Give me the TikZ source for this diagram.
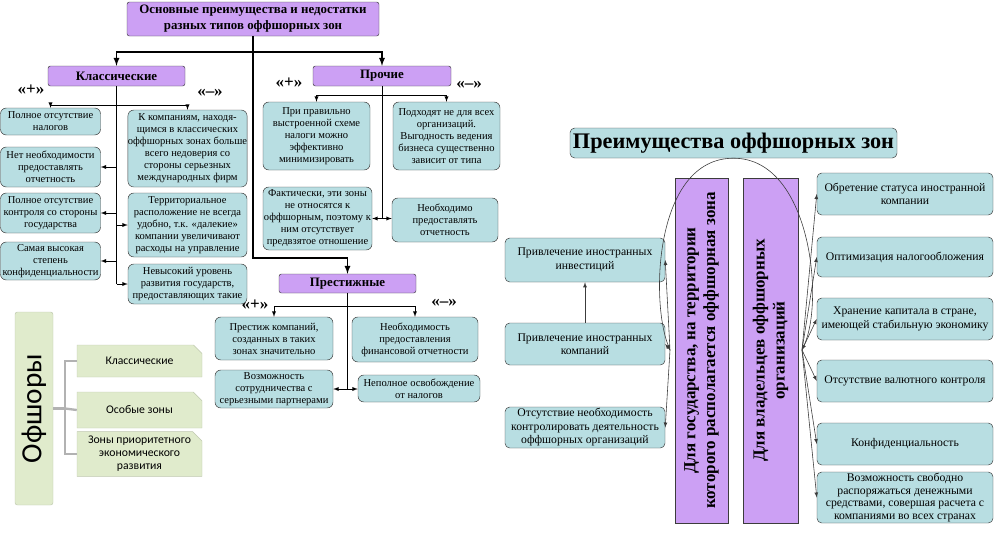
\documentclass[tikz,border=0pt]{standalone}
\usepackage{fontspec}
\setmainfont{Liberation Serif}
\newfontfamily\calibfont{Carlito}
\usepackage{tikz}
\usetikzlibrary{shapes.misc}

\definecolor{lilac}{RGB}{204,160,244}
\definecolor{aqua}{RGB}{184,222,226}
\definecolor{sage}{RGB}{224,235,204}
\definecolor{sageline}{RGB}{190,200,175}
\definecolor{edge}{RGB}{60,60,60}

\begin{document}
\begin{tikzpicture}[x=0.3mm, y=-0.3mm, >=latex,
	sz/.style 2 args={minimum width=#1*0.3mm, minimum height=#2*0.3mm},
	head/.style={draw=edge, fill=lilac, rounded corners=2pt, inner sep=0pt, align=center, font=\fontsize{11}{13.5}\selectfont\bfseries},
	sign/.style={inner sep=0pt, font=\fontsize{14.5}{14.5}\selectfont\bfseries},
	cell/.style={draw=edge, fill=aqua, rounded corners=5pt, inner sep=0pt, align=center, font=\fontsize{9}{10.2}\selectfont},
	note/.style={draw=edge, fill=aqua, rounded corners=4pt, inner sep=0pt, align=center, font=\fontsize{10}{11.5}\selectfont},
	big/.style={draw=edge, fill=aqua, rounded corners=4pt, inner sep=0pt, align=center, font=\fontsize{19}{21}\selectfont\bfseries},
	column/.style={draw=edge, fill=lilac, inner sep=0pt, align=center, font=\fontsize{14.5}{17}\selectfont\bfseries},
	gtall/.style={draw=sageline, fill=sage, rounded corners=2pt, inner sep=0pt, font=\calibfont\fontsize{25}{25}\selectfont},
	gcut/.style={chamfered rectangle, chamfered rectangle corners=north east, chamfered rectangle xsep=4pt, chamfered rectangle ysep=4pt, draw=sageline, fill=sage, inner sep=0pt, align=center, font=\calibfont\fontsize{10}{11}\selectfont},
	trunk/.style={line width=1.3pt},
	twig/.style={line width=0.6pt},
	wire/.style={line width=0.5pt, draw=edge},
	gwire/.style={line width=2pt, draw=gray!60}]
	\useasboundingbox (0,0) rectangle (1000,534);

	\node[head, sz={252}{34}] (T) at (253,19) {Основные преимущества и недостатки\\разных типов оффшорных зон};
	\node[head, sz={137}{20}] (K) at (116.5,76) {Классические};
	\node[head, sz={138}{20}] (P) at (382,76) {Прочие};
	\node[head, sz={137}{19}] (S) at (347.5,283.5) {Престижные};

	\node[sign] (Kp) at (31,90) {«+»};
	\node[sign] (Km) at (210,93) {«–»};
	\node[sign] (Pp) at (289,83) {«+»};
	\node[sign] (Pm) at (469,85) {«–»};
	\node[sign] (Sp) at (255,305) {«+»};
	\node[sign] (Sm) at (444,303) {«–»};

	\node[cell, sz={100}{27}] (k1) at (50.5,121.5) {Полное отсутствие\\налогов};
	\node[cell, sz={100}{40}] (k2) at (50.5,167) {Нет необходимости\\предоставлять\\отчетность};
	\node[cell, sz={100}{40}] (k3) at (50.5,213) {Полное отсутствие\\контроля со стороны\\государства};
	\node[cell, sz={100}{38}] (k4) at (50.5,261) {Самая высокая\\степень\\конфиденциальности};
	\node[cell, sz={119}{77}] (km1) at (187.5,148.5) {К компаниям, находя-\\щимся в классических\\оффшорных зонах больше\\всего недоверия со\\стороны серьезных\\международных фирм};
	\node[cell, sz={119}{64}] (km2) at (187.5,225) {Территориальное\\расположение не всегда\\удобно, т.к. «далекие»\\компании увеличивают\\расходы на управление};
	\node[cell, sz={119}{40}] (km3) at (187.5,284) {Невысокий уровень\\развития государств,\\предоставляющих такие};

	\node[cell, sz={107}{68}] (p1) at (316.5,136) {При правильно\\выстроенной схеме\\налоги можно\\эффективно\\минимизировать};
	\node[cell, sz={107}{68}] (pm1) at (446.5,136) {Подходят не для всех\\организаций.\\Выгодность ведения\\бизнеса существенно\\зависит от типа};
	\node[cell, sz={109}{63}] (p2) at (317.5,218.5) {Фактически, эти зоны\\не относятся к\\оффшорным, поэтому к\\ним отсутствует\\предвзятое отношение};
	\node[cell, sz={106}{44}] (pm2) at (445,220) {Необходимо\\предоставлять\\отчетность};

	\node[cell, sz={118}{43}] (s1) at (274,338.5) {Престиж компаний,\\созданных в таких\\зонах значительно};
	\node[cell, sz={126}{45}] (sm1) at (415,339.5) {Необходимость\\предоставления\\финансовой отчетности};
	\node[cell, sz={118}{38}] (s2) at (274,389) {Возможность\\сотрудничества с\\серьезными партнерами};
	\node[cell, sz={122}{27}] (sm2) at (419,388.5) {Неполное освобождение\\от налогов};

	\coordinate (j0) at (253,52);
	\coordinate (jS) at (347.5,258);
	\coordinate (jK) at (116.5,105);
	\coordinate (jP) at (382,95);
	\coordinate (jR) at (347.5,306);

	\draw[trunk] (T.south) |- (jS);
	\draw[trunk, ->] (jS) -- (S.north);
	\draw[trunk, ->] (j0) -| (K.north);
	\draw[trunk, ->] (j0) -| (P.north);

	\draw[twig] (K.south) -- (K.south |- km3.west);
	\draw[twig, ->] (jK) -| (k1.north);
	\draw[twig, ->] (jK) -| (km1.north);
	\draw[twig, ->] (K.south |- k2.east) -- (k2.east);
	\draw[twig, ->] (K.south |- k3.east) -- (k3.east);
	\draw[twig, ->] (K.south |- k4.east) -- (k4.east);
	\draw[twig, ->] (K.south |- km2.west) -- (km2.west);
	\draw[twig, ->] (K.south |- km3.west) -- (km3.west);

	\draw[twig] (P.south) -- (P.south |- p2.east);
	\draw[twig, ->] (jP) -| (p1.north);
	\draw[twig, ->] (jP) -| (pm1.north);
	\draw[twig, ->] (P.south |- p2.east) -- (p2.east);
	\draw[twig, ->] (P.south |- p2.east) -- (pm2.west |- p2.east);

	\draw[twig] (S.south) -- (S.south |- s2.east);
	\draw[twig, ->] (jR) -| (s1.north);
	\draw[twig, ->] (jR) -| (sm1.north);
	\draw[twig, ->] (S.south |- s2.east) -- (s2.east);
	\draw[twig, ->] (S.south |- s2.east) -- (sm2.west |- s2.east);

	\node[gtall, sz={193}{38}, rotate=90] (O) at (34,408.5) {Офшоры};
	\node[gcut, sz={125}{32}] (g1) at (139.5,361) {Классические};
	\node[gcut, sz={125}{36}] (g2) at (139.5,410) {Особые зоны};
	\node[gcut, sz={125}{38}] (g3) at (139.5,454) {Зоны приоритетного\\экономического\\развития};
	\coordinate (jO) at (65,408.5);
	\draw[gwire] (O.south) -- (jO);
	\draw[gwire] (g1.west) -| (jO) |- (g3.west);
	\draw[gwire] (jO) -- (g2.west);

	\node[big, sz={327}{30}] (R) at (733.5,143) {Преимущества оффшорных зон};
	\node[column, sz={345}{53}, rotate=90] (G) at (701.5,350.5) {Для государства, на территории\\которого располагается оффшорная зона};
	\node[column, sz={345}{55}, rotate=90] (V) at (770.5,350.5) {Для владельцев оффшорных\\организаций};

	\node[note, sz={160}{44}] (L1) at (585,260) {Привлечение иностранных\\инвестиций};
	\node[note, sz={160}{42}] (L2) at (585,344) {Привлечение иностранных\\компаний};
	\node[note, sz={160}{41}] (L3) at (585,427.5) {Отсутствие необходимость\\контролировать деятельность\\оффшорных организаций};

	\node[note, sz={176}{42}] (B1) at (905,194) {Обретение статуса иностранной\\компании};
	\node[note, sz={176}{40}] (B2) at (905,257) {Оптимизация налогообложения};
	\node[note, sz={176}{42}] (B3) at (905,319) {Хранение капитала в стране,\\имеющей стабильную экономику};
	\node[note, sz={176}{42}] (B4) at (905,381) {Отсутствие валютного контроля};
	\node[note, sz={176}{42}] (B5) at (905,444) {Конфиденциальность};
	\node[note, sz={176}{51}, font=\fontsize{10}{10.8}\selectfont] (B6) at (905,497.5) {Возможность свободно\\распоряжаться денежными\\средствами, совершая расчета с\\компаниями во всех странах};

	\coordinate (hl) at (670,350);
	\coordinate (hr) at (802,350);
	\draw[wire, ->] (R.south) .. controls (655,158) and (650,300) .. (hl);
	\draw[wire, ->] (R.south) .. controls (810,158) and (825,300) .. (hr);
	\draw[wire, ->] (hl) -- (L1.east);
	\draw[wire, ->] (hl) -- (L2.east);
	\draw[wire, ->] (hl) -- (L3.east);
	\draw[wire, ->] (L2.north) -- (L1.south);
	\draw[wire, ->] (hr) -- (B1.west);
	\draw[wire, ->] (hr) -- (B2.west);
	\draw[wire, ->] (hr) -- (B3.west);
	\draw[wire, ->] (hr) -- (B4.west);
	\draw[wire, ->] (hr) -- (B5.west);
	\draw[wire, ->] (hr) -- (B6.west);
\end{tikzpicture}
\end{document}
